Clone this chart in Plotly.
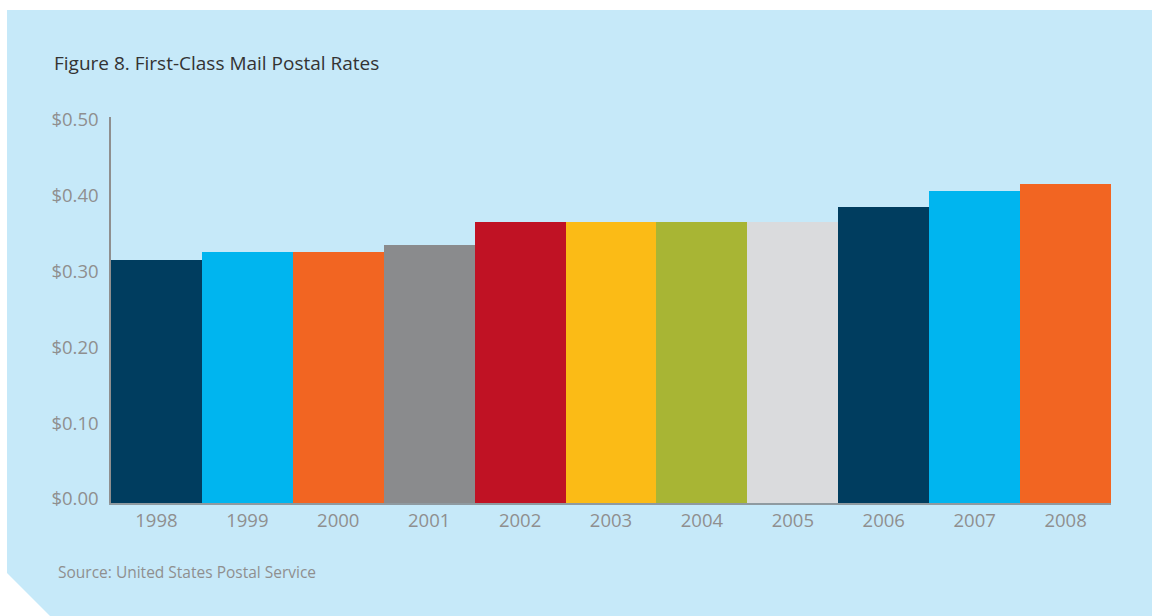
import plotly.graph_objects as go

years = ["1998", "1999", "2000", "2001", "2002", "2003", "2004", "2005", "2006", "2007", "2008"]
rates = [0.32, 0.33, 0.33, 0.34, 0.37, 0.37, 0.37, 0.37, 0.39, 0.41, 0.42]
bar_colors = ["#003d5f", "#00b5ef", "#f26522", "#8a8b8d", "#c01224", "#fbbb16",
              "#a8b534", "#dadbdd", "#003d5f", "#00b5ef", "#f26522"]
y_ticks = [0, 0.1, 0.2, 0.3, 0.4, 0.5]
y_tick_labels = ["$0.00", "$0.10", "$0.20", "$0.30", "$0.40", "$0.50"]

W, H = 1152, 616
L, R, T, B = 111, 41, 117, 113
PW, PH = W - L - R, H - T - B

def px(x):
    return (x - L) / PW

def py(y):
    return (H - B - y) / PH

BG = "#c6e9f9"
FONT = "'Open Sans', sans-serif"

fig = go.Figure(go.Bar(
    x=years, y=rates, marker=dict(color=bar_colors, line=dict(width=0)),
    hovertemplate="%{x}: $%{y:.2f}<extra></extra>",
))

# background panel with cut corner
path = (f"M {px(7)},{py(10)} L {px(W)},{py(10)} L {px(W)},{py(H)} "
        f"L {px(50)},{py(H)} L {px(7)},{py(573)} Z")
fig.add_shape(type="path", path=path, xref="paper", yref="paper",
              fillcolor=BG, line=dict(width=0), layer="below")

fig.add_annotation(text="Figure 8. First-Class Mail Postal Rates", xref="paper", yref="paper",
                   x=px(52), y=py(63), xanchor="left", yanchor="middle", showarrow=False,
                   font=dict(family=FONT, size=19, color="#333333"))
fig.add_annotation(text="Source: United States Postal Service", xref="paper", yref="paper",
                   x=px(56), y=py(572), xanchor="left", yanchor="middle", showarrow=False,
                   font=dict(family=FONT, size=15.5, color="#8f8f8f"))

fig.update_layout(
    width=W, height=H,
    margin=dict(l=L, r=R, t=T, b=B, pad=0),
    paper_bgcolor="white", plot_bgcolor="rgba(0,0,0,0)",
    bargap=0, showlegend=False,
    font=dict(family=FONT, color="#8f8f8f"),
    xaxis=dict(showline=True, linecolor="#8f9aa0", linewidth=2, showgrid=False,
               ticks="", tickfont=dict(size=18.5, color="#8f8f8f"), ticklabelstandoff=0,
               fixedrange=True),
    yaxis=dict(range=[0, 0.508], tickvals=y_ticks, ticktext=y_tick_labels,
               showline=True, linecolor="#8f8f8f", linewidth=1.5, showgrid=False,
               zeroline=False, ticks="", tickfont=dict(size=18.5, color="#8f8f8f"),
               ticklabelstandoff=7, ticklabelshift=-4, fixedrange=True),
)

fig.write_html("out.html")
